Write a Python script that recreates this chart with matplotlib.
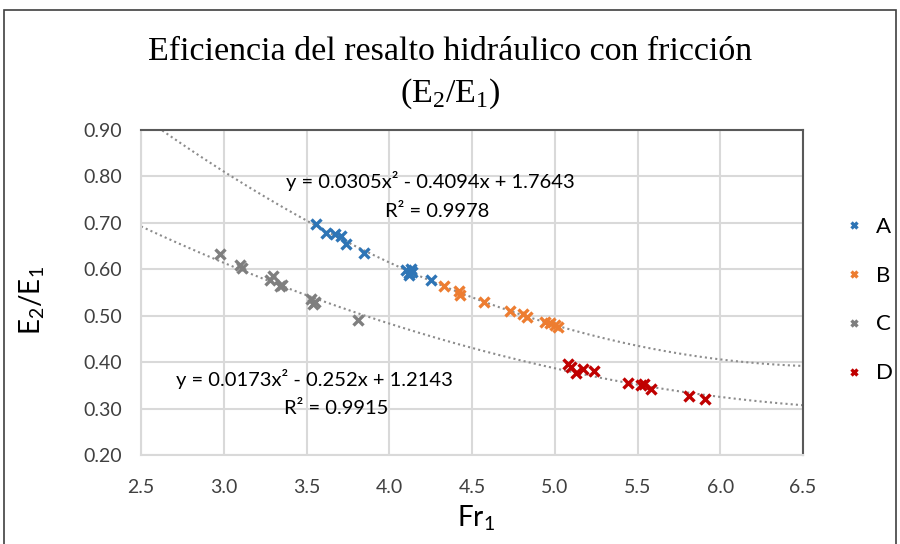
import numpy as np
import matplotlib
matplotlib.use("Agg")
import matplotlib.pyplot as plt
from matplotlib.patches import Rectangle

# data
a_fr = [3.56, 3.62, 3.67, 3.71, 3.74, 3.85, 4.10, 4.12, 4.13, 4.14, 4.12, 4.25]
a_eff = [0.698, 0.678, 0.676, 0.672, 0.655, 0.636, 0.598, 0.592, 0.600, 0.594, 0.588, 0.576]

b_fr = [4.33, 4.42, 4.43, 4.57, 4.73, 4.81, 4.83, 4.94, 4.97, 5.00, 5.02]
b_eff = [0.565, 0.554, 0.544, 0.529, 0.511, 0.504, 0.498, 0.487, 0.485, 0.480, 0.476]

c_fr = [2.98, 3.10, 3.11, 3.28, 3.30, 3.34, 3.35, 3.53, 3.54, 3.55, 3.81]
c_eff = [0.633, 0.610, 0.603, 0.577, 0.585, 0.565, 0.566, 0.535, 0.525, 0.530, 0.490]

d_fr = [5.08, 5.10, 5.13, 5.17, 5.24, 5.44, 5.52, 5.54, 5.58, 5.81, 5.91]
d_eff = [0.395, 0.390, 0.377, 0.386, 0.380, 0.355, 0.350, 0.352, 0.342, 0.327, 0.321]

series_names = ["A", "B", "C", "D"]
series_colors = ["#2E75B6", "#ED7D31", "#7F7F7F", "#C00000"]

# trendline coefficients shown on the chart
fit_ab = [0.0305, -0.4094, 1.7643]
fit_cd = [0.0173, -0.252, 1.2143]

sans = ["Lato", "DejaVu Sans"]
serif = ["Liberation Serif", "DejaVu Serif"]

fig = plt.figure(figsize=(9, 5.44), dpi=100)
ax = fig.add_axes([141/900, 1 - 455/544, (803-141)/900, (455-130)/544])

xs = np.linspace(2.5, 6.5, 300)
ax.plot(xs, np.polyval(fit_ab, xs), linestyle=(0, (1, 1.5)), color="#8C8C8C", lw=1.5, zorder=2)
ax.plot(xs, np.polyval(fit_cd, xs), linestyle=(0, (1, 1.5)), color="#8C8C8C", lw=1.5, zorder=2)

for xv, yv, name, col in zip([a_fr, b_fr, c_fr, d_fr], [a_eff, b_eff, c_eff, d_eff],
                             series_names, series_colors):
    ax.plot(xv, yv, linestyle="none", marker="x", ms=6.5, mew=2.4, color=col, label=name, zorder=3)

ax.set_xlim(2.5, 6.5)
ax.set_ylim(0.2, 0.9)
ax.set_xticks(np.arange(2.5, 6.51, 0.5))
ax.set_yticks(np.arange(0.2, 0.91, 0.1))
ax.set_xticklabels([f"{v:.1f}" for v in np.arange(2.5, 6.51, 0.5)], family=sans, fontsize=14, color="#404040")
ax.set_yticklabels([f"{v:.2f}" for v in np.arange(0.2, 0.91, 0.1)], family=sans, fontsize=14, color="#404040")
ax.tick_params(axis="y", length=0, pad=13.5)
ax.tick_params(axis="x", length=0, pad=17)
ax.grid(True, color="#D9D9D9", lw=1.5)
ax.set_axisbelow(True)
for side in ["left", "bottom"]:
    ax.spines[side].set_color("#D9D9D9")
    ax.spines[side].set_linewidth(1.5)
for side in ["top", "right"]:
    ax.spines[side].set_color("#595959")
    ax.spines[side].set_linewidth(1.5)

fig.text(476/900, 1 - 518/544, r"Fr$_\mathregular{1}$", ha="center", va="center",
         family=sans, fontsize=20)
fig.text(32/900, 1 - 300/544, r"E$_\mathregular{2}$/E$_\mathregular{1}$", ha="center", va="center",
         family=sans, fontsize=20, rotation=90)

fig.text(0.5, 1 - 52/544, "Eficiencia del resalto hidráulico con fricción",
         ha="center", va="center", family=serif, fontsize=24.5)
fig.text(0.5, 1 - 94/544, r"(E$_\mathregular{2}$/E$_\mathregular{1}$)",
         ha="center", va="center", family=serif, fontsize=24.5)

fig.text(430/900, 1 - 181/544, "y = 0.0305x² - 0.4094x + 1.7643",
         ha="center", va="center", family=sans, fontsize=14.5)
fig.text(437/900, 1 - 211/544, "R² = 0.9978",
         ha="center", va="center", family=sans, fontsize=14.5)
fig.text(314/900, 1 - 379/544, "y = 0.0173x² - 0.252x + 1.2143",
         ha="center", va="center", family=sans, fontsize=14.5)
fig.text(336/900, 1 - 408/544, "R² = 0.9915",
         ha="center", va="center", family=sans, fontsize=14.5)

leg = ax.legend(loc="center left", bbox_to_anchor=(845/900, 1 - 300/544),
                bbox_transform=fig.transFigure, frameon=False,
                prop={"family": sans, "size": 16}, labelspacing=1.3,
                handlelength=0.8, handletextpad=0.6, markerscale=0.75,
                borderaxespad=0, borderpad=0)

fig.patches.append(Rectangle((4/900, -0.01), 892/900, (544-10)/544 + 0.01,
                             transform=fig.transFigure, fill=False,
                             edgecolor="#404040", lw=1.2))

fig.savefig("out.png", dpi=100)
